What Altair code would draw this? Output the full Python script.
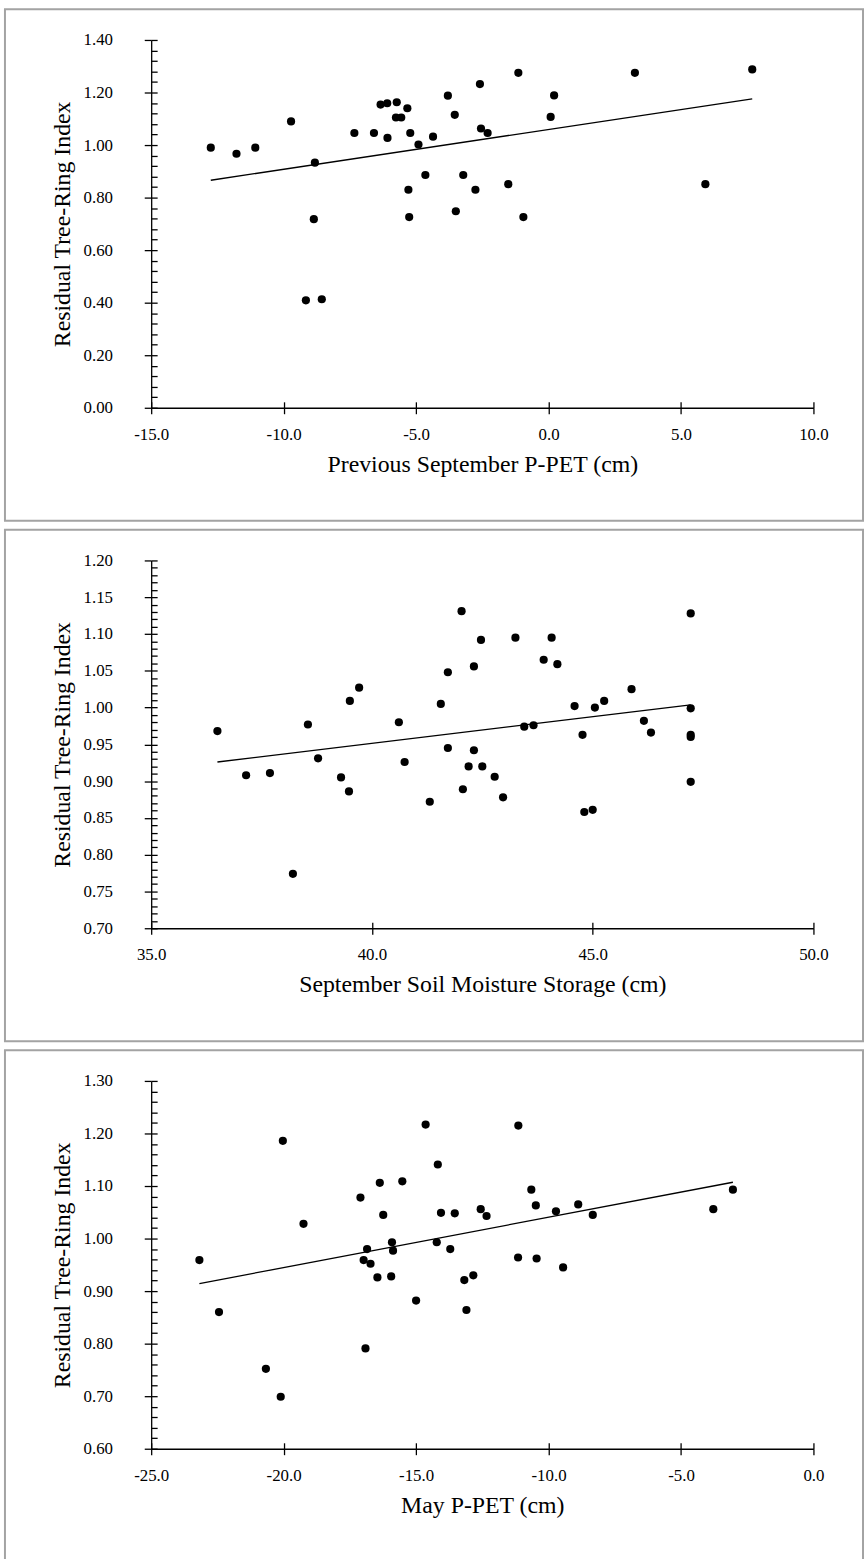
import altair as alt
import pandas as pd

# ---------------- data ----------------
p1_x = [-12.75, -11.78, -11.07, -9.72, -8.82, -8.86, -9.16, -8.56, -7.33, -6.59,
        -6.34, -6.09, -6.08, -5.73, -5.76, -5.56, -5.33, -5.22, -5.29, -5.26,
        -4.91, -4.65, -4.36, -3.80, -3.54, -3.50, -3.22, -2.76, -2.59, -2.55,
        -2.30, -1.14, 0.21, 0.08, -1.52, -0.95, 3.26, 7.69, 5.92]
p1_y = [0.990, 0.967, 0.990, 1.090, 0.933, 0.718, 0.409, 0.413, 1.046, 1.046,
        1.154, 1.159, 1.027, 1.163, 1.105, 1.105, 1.140, 1.046, 0.830, 0.726,
        1.002, 0.886, 1.032, 1.188, 1.115, 0.748, 0.886, 0.830, 1.232, 1.063,
        1.046, 1.275, 1.189, 1.107, 0.851, 0.726, 1.275, 1.288, 0.851]

p2_x = [36.50, 37.15, 37.69, 38.21, 38.55, 38.78, 39.30, 39.48, 39.50, 39.71,
        40.61, 40.74, 41.31, 41.56, 41.72, 42.03, 42.31, 42.47, 41.72, 42.06,
        42.19, 42.31, 42.50, 42.78, 42.97, 43.45, 43.66, 44.59, 45.05, 45.26,
        44.77, 44.81, 45.00, 46.16, 46.32, 47.22, 47.22, 47.22, 47.22, 43.25,
        44.07, 43.89, 44.20, 45.88, 47.22]
p2_y = [0.968, 0.908, 0.911, 0.774, 0.977, 0.931, 0.905, 0.886, 1.009, 1.027,
        0.980, 0.926, 0.872, 1.005, 1.048, 1.131, 1.056, 1.092, 0.945, 0.889,
        0.920, 0.942, 0.920, 0.906, 0.878, 0.974, 0.976, 1.002, 1.000, 1.009,
        0.963, 0.858, 0.861, 0.982, 0.966, 0.999, 0.963, 0.960, 0.899, 1.095,
        1.095, 1.065, 1.059, 1.025, 1.128]

p3_x = [-20.03, -19.25, -17.10, -16.37, -15.52, -14.64, -14.18, -16.24, -14.06, -13.54,
        -12.56, -12.34, -11.14, -10.65, -10.48, -9.72, -8.88, -8.33, -3.78, -3.04,
        -23.18, -22.44, -20.67, -20.11, -16.85, -16.98, -16.72, -16.46, -16.91, -15.91,
        -15.87, -15.94, -15.00, -14.22, -13.71, -13.18, -12.84, -13.10, -11.15, -10.45,
        -9.45]
p3_y = [1.186, 1.028, 1.078, 1.106, 1.109, 1.217, 1.141, 1.045, 1.049, 1.048,
        1.056, 1.043, 1.215, 1.093, 1.063, 1.052, 1.065, 1.045, 1.056, 1.093,
        0.959, 0.860, 0.752, 0.699, 0.980, 0.959, 0.952, 0.926, 0.791, 0.993,
        0.977, 0.928, 0.882, 0.993, 0.980, 0.921, 0.930, 0.864, 0.964, 0.962,
        0.945]

x1_ticks = [-15.0, -10.0, -5.0, 0.0, 5.0, 10.0]
y1_major = [0.0, 0.2, 0.4, 0.6, 0.8, 1.0, 1.2, 1.4]
x2_ticks = [35.0, 40.0, 45.0, 50.0]
y2_major = [0.70, 0.75, 0.80, 0.85, 0.90, 0.95, 1.00, 1.05, 1.10, 1.15, 1.20]
x3_ticks = [-25.0, -20.0, -15.0, -10.0, -5.0, 0.0]
y3_major = [0.6, 0.7, 0.8, 0.9, 1.0, 1.1, 1.2, 1.3]

x1_title = "Previous September P-PET (cm)"
x2_title = "September Soil Moisture Storage (cm)"
x3_title = "May P-PET (cm)"
y_title = "Residual Tree-Ring Index"

# ---------------- styling ----------------
FONT = "Liberation Serif"
W, H = 668, 371
MINUS = "\u2212"


def minors(major, n=5):
    out = []
    for a, b in zip(major[:-1], major[1:]):
        step = (b - a) / n
        for k in range(1, n):
            out.append(round(a + k * step, 6))
    return out


def panel(xs, ys, xdom, xvals, xtitle, ymajor):
    df = pd.DataFrame({"x": xs, "y": ys})
    ydom = [ymajor[0], ymajor[-1]]
    xs_ = alt.Scale(domain=xdom, nice=False, zero=False)
    ys_ = alt.Scale(domain=ydom, nice=False, zero=False)
    common = dict(labelFont=FONT, titleFont=FONT, labelColor="black",
                  titleColor="black", domainColor="black", tickColor="black",
                  grid=False, labelFontSize=17, titleFontSize=24,
                  titleFontWeight="normal", domainWidth=1.3, tickWidth=1.3,
                  labelFlush=False, labelOverlap=False)
    x_enc = alt.X("x:Q", scale=xs_, axis=alt.Axis(
        values=xvals, format=".1f",
        labelExpr="replace(datum.label, '" + MINUS + "', '-')",
        title=xtitle, tickSize=6, labelPadding=13, titlePadding=10, **common))
    y_enc = alt.Y("y:Q", scale=ys_, axis=alt.Axis(
        values=ymajor, format=".2f", title=y_title, tickSize=7,
        labelPadding=32, titlePadding=9, **common))

    pts = alt.Chart(df).mark_circle(size=68, color="black", opacity=1).encode(
        x=x_enc, y=y_enc)
    line = alt.Chart(df).transform_regression("x", "y").mark_line(
        color="black", strokeWidth=1.3).encode(x=x_enc, y=y_enc)
    main = alt.layer(pts, line)

    # inward-pointing ticks (major + minor on y, major on x)
    inner = alt.Chart(df).mark_circle(opacity=0).encode(
        x=alt.X("x:Q", scale=xs_, axis=alt.Axis(
            orient="top", offset=-H, values=xvals, labels=False, domain=False,
            title=None, tickSize=6, tickColor="black", tickWidth=1.3, grid=False)),
        y=alt.Y("y:Q", scale=ys_, axis=alt.Axis(
            orient="right", offset=-W, values=ymajor + minors(ymajor),
            labels=False, domain=False, title=None, tickSize=6,
            tickColor="black", tickWidth=1.3, grid=False)),
    )
    frame = alt.Chart(pd.DataFrame({"a": [0]})).mark_rect(
        filled=False, stroke="#a3a3a3", strokeWidth=2).encode(
        x=alt.value(-147.5), x2=alt.value(718),
        y=alt.value(-31), y2=alt.value(485),
    )
    return alt.layer(frame, main, inner).resolve_axis(
        x="independent", y="independent").properties(width=W, height=H)


c1 = panel(p1_x, p1_y, [-15, 10], x1_ticks, x1_title, y1_major)
c2 = panel(p2_x, p2_y, [35, 50], x2_ticks, x2_title, y2_major)
c3 = panel(p3_x, p3_y, [-25, 0], x3_ticks, x3_title, y3_major)

chart = alt.vconcat(c1, c2, c3, spacing=7).properties(
    padding={"left": 3.5, "top": 1.5, "right": 0, "bottom": 0},
    background="white",
).configure_view(stroke=None)

chart.save("out.html", embed_options={"renderer": "svg", "actions": False})
